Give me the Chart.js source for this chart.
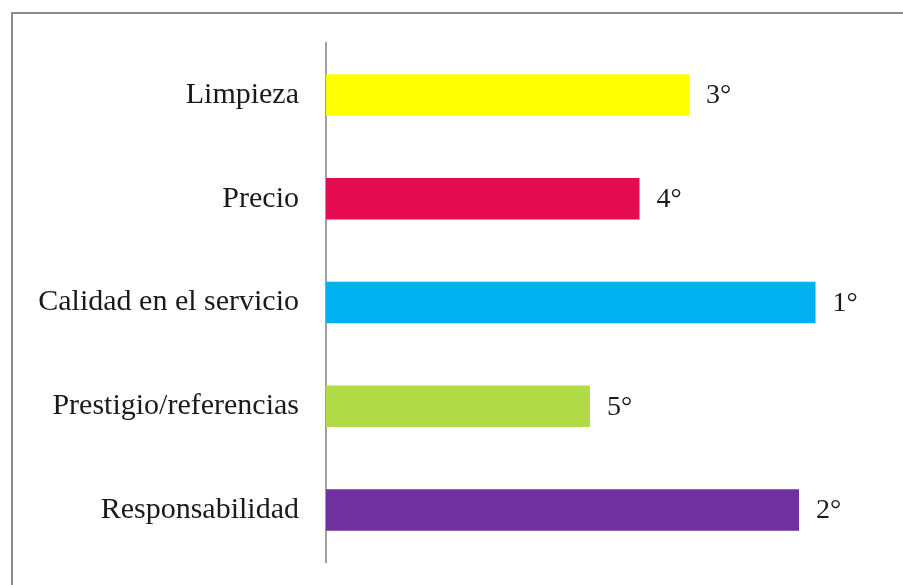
<!DOCTYPE html>
<html>
<head>
<meta charset="utf-8">
<script src="https://cdn.jsdelivr.net/npm/chart.js@4"></script>
<style>
    html, body { margin: 0; padding: 0; background: #fff; overflow: hidden; }
    #wrap { position: relative; width: 903px; height: 585px; }
    #frame { position: absolute; left: 11px; top: 12px; width: 1000px; height: 1000px;
             border-top: 2px solid #8c8c8c; border-left: 2px solid #8c8c8c; pointer-events: none; }
</style>
</head>
<body>
<div id="wrap">
    <canvas id="barChartFactores" width="903" height="585"></canvas>
    <div id="frame"></div>
</div>
<script>
var factores = ["Limpieza", "Precio", "Calidad en el servicio", "Prestigio/referencias", "Responsabilidad"];
var puntaje = [66, 57, 89, 48, 86];
var lugar = ["3°", "4°", "1°", "5°", "2°"];
var colores = ["#FFFF00", "#E60B50", "#00B0F0", "#B2DC46", "#7030A0"];

var fuente = "'Liberation Serif', 'DejaVu Serif', serif";

// etiqueta de lugar al final de cada barra
var etiquetasLugar = {
    id: 'etiquetasLugar',
    afterDatasetsDraw: function (chart) {
        var ctx = chart.ctx;
        var meta = chart.getDatasetMeta(0);
        ctx.save();
        ctx.font = "28px " + fuente;
        ctx.fillStyle = "#1a1a1a";
        ctx.textAlign = "left";
        ctx.textBaseline = "middle";
        meta.data.forEach(function (bar, i) {
            ctx.fillText(lugar[i], bar.x + 17, bar.y + 1);
        });
        ctx.restore();
    }
};

var chartDiv = document.getElementById("barChartFactores");
var myChart = new Chart(chartDiv, {
    type: 'bar',
    data: {
        labels: factores,
        datasets: [{
            data: puntaje,
            backgroundColor: colores,
            borderWidth: 0,
            categoryPercentage: 1,
            barPercentage: 0.4
        }]
    },
    options: {
        indexAxis: 'y',
        responsive: false,
        animation: false,
        layout: { padding: { left: 0, right: 27, top: 43, bottom: 23 } },
        plugins: {
            legend: { display: false },
            tooltip: { enabled: false }
        },
        scales: {
            x: { display: false, min: 0, max: 100 },
            y: {
                grid: { display: false },
                border: { display: true, color: '#a0a0a0', width: 2 },
                ticks: {
                    padding: 19,
                    color: '#1a1a1a',
                    font: { family: fuente, size: 30 }
                },
                afterFit: function (scale) {
                    scale.width = 326;
                    scale.paddingTop = 0;
                    scale.paddingBottom = 0;
                }
            }
        }
    },
    plugins: [etiquetasLugar]
});
</script>
</body>
</html>
